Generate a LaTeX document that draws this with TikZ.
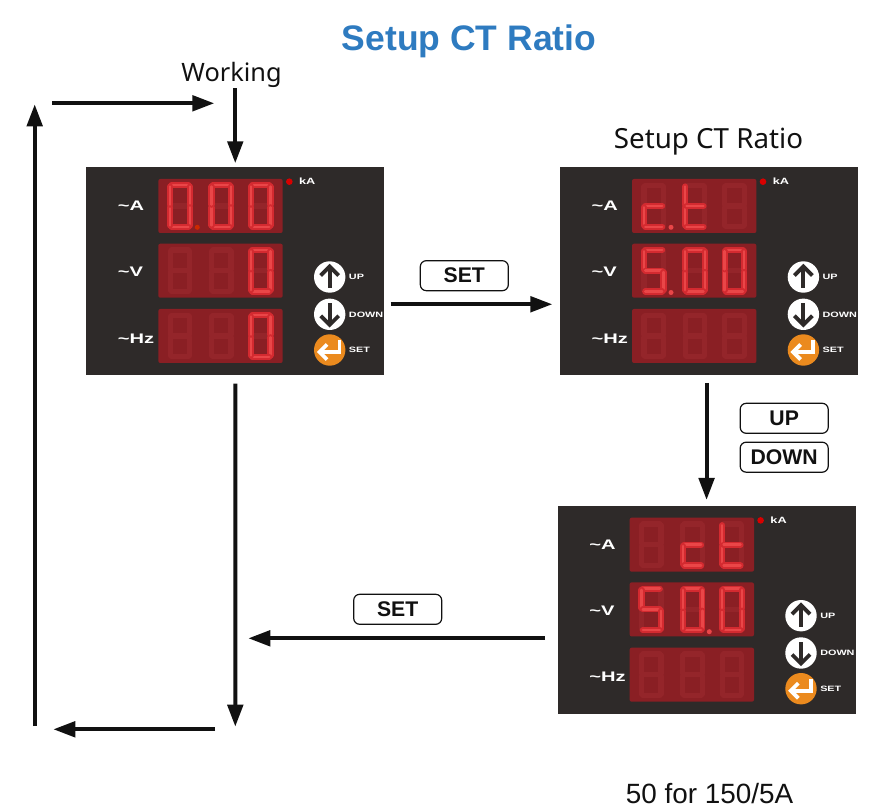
\documentclass[tikz,border=0pt]{standalone}
\usepackage{fontspec}
\usepackage{graphicx}
\setmainfont{Liberation Sans}
\newfontfamily\notof{Noto Sans}
\usetikzlibrary{arrows.meta}
\definecolor{panelbg}{HTML}{2E2A29}
\definecolor{dispbg}{HTML}{8A1F24}
\definecolor{segdim}{HTML}{94252A}
\definecolor{seglit}{HTML}{D42A30}
\definecolor{segcore}{HTML}{EA4648}
\definecolor{seton}{HTML}{EB8A1E}
\definecolor{titleblue}{HTML}{2E7BC0}
\definecolor{ink}{HTML}{111111}
\def\sega{(4.5,3.2)--(21.5,3.2)}
\def\segb{(22.8,4.5)--(22.8,22.7)}
\def\segc{(22.8,25.3)--(22.8,43.5)}
\def\segd{(4.5,44.8)--(21.5,44.8)}
\def\sege{(3.2,25.3)--(3.2,43.5)}
\def\segf{(3.2,4.5)--(3.2,22.7)}
\def\segg{(4.5,24)--(21.5,24)}
\def\segnone{}
\def\DZ{\sega,\segb,\segc,\segd,\sege,\segf}
\def\DF{\sega,\segf,\segg,\segc,\segd}
\def\DC{\segg,\sege,\segd}
\def\DT{\segf,\sege,\segd,\segg}
\def\DN{\segnone}
\newcommand\sevenseg[3]{%
  \begin{scope}[shift={(#1,#2)}]
    \foreach \s in {\sega,\segb,\segc,\segd,\sege,\segf,\segg}{\draw[segoff] \s;}
    \foreach \s in #3{\draw[segon] \s;\draw[segin] \s;}
  \end{scope}}
\newcommand\readout[4]{%
  \fill[dispbg,rounded corners=1.5] (72.3,#1) rectangle (196.7,#1+54);
  \sevenseg{81}{#1+3}{#2}\sevenseg{122.3}{#1+3}{#3}\sevenseg{161.7}{#1+3}{#4}}
\newcommand\meter[4]{%
  \node[panelbox] (#1) at (#2,#3) {};
  \begin{scope}[shift={(#2,#3)}]
    #4
    \fill[red!85!black] (203.3,14.7) circle (3.3);
    \node[plab,font=\fontsize{6.8}{8}\selectfont\bfseries] at (221.3,14.7) {\scalebox{1.4}[1]{kA}};
    \node[meterlab,anchor=west] at (31.7,38.7) {\scalebox{1.45}[1]{\textasciitilde A}};
    \node[meterlab,anchor=west] at (31.7,104.7) {\scalebox{1.45}[1]{\textasciitilde V}};
    \node[meterlab,anchor=west] at (31.7,171.3) {\scalebox{1.45}[1]{\textasciitilde Hz}};
    \fill[white] (243.7,110) circle (15.7);
    \draw[icon] (243.7,121)--(243.7,100);
    \draw[icon] (234.7,108.5)--(243.7,99.5)--(252.7,108.5);
    \fill[white] (243.7,147.3) circle (15.7);
    \draw[icon] (243.7,136.3)--(243.7,157.3);
    \draw[icon] (234.7,148.8)--(243.7,157.8)--(252.7,148.8);
    \fill[seton] (243.7,183) circle (15.7);
    \draw[icon,white] (253.5,173.5)--(253.5,185)--(234,185);
    \draw[icon,white] (241,177.5)--(233.5,185)--(241,192.5);
    \node[plab,anchor=west] at (262.7,110) {\scalebox{1.4}[1]{UP}};
    \node[plab,anchor=west] at (262.7,147.5) {\scalebox{1.4}[1]{DOWN}};
    \node[plab,anchor=west] at (262.7,183) {\scalebox{1.4}[1]{SET}};
  \end{scope}}
\tikzset{
  x=0.75pt,y=-0.75pt,
  panelbox/.style={anchor=north west,fill=panelbg,draw=none,minimum width=223.5pt,minimum height=156pt,inner sep=0pt},
  segoff/.style={draw=segdim,line width=4pt,line cap=round},
  segon/.style={draw=seglit,line width=4.6pt,line cap=round},
  segin/.style={draw=segcore,line width=1.8pt,line cap=round},
  icon/.style={draw=panelbg,line width=2.9pt},
  meterlab/.style={text=white,font=\fontsize{10.4}{12}\selectfont\bfseries,inner sep=0pt},
  plab/.style={text=white,font=\fontsize{5.8}{7}\selectfont\bfseries,inner sep=0pt},
  keycap/.style={draw=ink,line width=0.9pt,rounded corners=4.5pt,minimum width=66pt,minimum height=22.5pt,inner sep=0pt,font=\fontsize{15.9}{18}\selectfont\bfseries,text=ink},
  arr/.style={draw=ink,line width=3pt,-{Triangle[length=16.5pt,width=11.5pt]}},
  capt/.style={text=ink,inner sep=0pt},
}
\begin{document}
\begin{tikzpicture}
\useasboundingbox (0,0) rectangle (896,812);
\node[capt,font=\fontsize{26.6}{30}\selectfont\bfseries,text=titleblue] (title) at (469,41) {Setup CT Ratio};
\node[capt,anchor=base,font=\notof\fontsize{19}{22}\selectfont] (working) at (231.5,82) {Working};
\node[capt,anchor=base,font=\notof\fontsize{20.8}{24}\selectfont] (setup) at (708.5,149) {Setup CT Ratio};
\node[capt,anchor=base,font=\fontsize{20.9}{24}\selectfont] (note) at (709.5,803) {50 for 150/5A};
\meter{p1}{86}{167}{\readout{12}{\DZ}{\DZ}{\DZ}\readout{76.7}{\DN}{\DN}{\DZ}\readout{142}{\DN}{\DN}{\DZ}\fill[red!60!orange!80!black] (111.3,60.3) circle (2.5);}
\meter{p2}{559.7}{167}{\readout{12}{\DC}{\DT}{\DN}\readout{76.7}{\DF}{\DZ}{\DZ}\readout{142}{\DN}{\DN}{\DN}\fill[segcore] (111.3,60.3) circle (2.5);\fill[segcore] (111.3,125.5) circle (2.5);}
\meter{p3}{557.3}{505.7}{\readout{12}{\DN}{\DC}{\DT}\readout{76.7}{\DF}{\DZ}{\DZ}\readout{142}{\DN}{\DN}{\DN}\fill[segcore] (152,126) circle (2.5);}
\node[keycap] (k1) at (464.3,275.7) {SET};
\node[keycap] (k2) at (784.2,418.3) {UP};
\node[keycap] (k3) at (784.2,457.2) {DOWN};
\node[keycap] (k4) at (397.7,609.3) {SET};
\coordinate (ja) at (235.3,726.7);
\coordinate (jb) at (248.3,638.3);
\coordinate (ta) at (52.3,103.3);
\coordinate (tb) at (214.3,103.3);
\coordinate (la) at (34.7,726);
\coordinate (lb) at (34.7,104.3);
\coordinate (ba) at (215,729.3);
\coordinate (bb) at (53.3,729.3);
\draw[arr,shorten >=2.8pt] (p1.north |- working.south) -- (p1.north);
\draw[arr,shorten <=6pt] (p1.south) -- (ja);
\draw[arr,shorten <=4.5pt,shorten >=5.5pt] ([yshift=-24.75pt]p1.east) -- ([yshift=-24.75pt]p1.east -| p2.west);
\draw[arr,shorten <=5.5pt,shorten >=4.3pt] (p3.north |- p2.south) -- (p3.north);
\draw[arr,shorten <=9.2pt] (jb -| p3.west) -- (jb);
\draw[arr] (ta) -- (tb);
\draw[arr] (la) -- (lb);
\draw[arr] (ba) -- (bb);
\end{tikzpicture}
\end{document}
